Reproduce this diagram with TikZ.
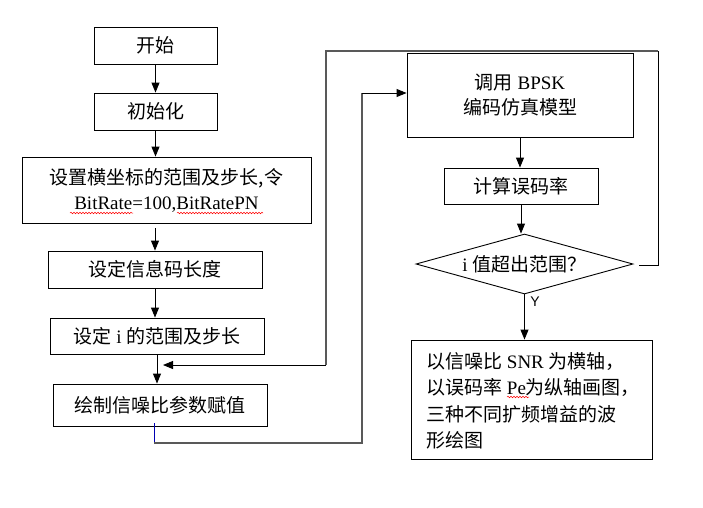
\documentclass[tikz,border=0pt]{standalone}
\usepackage{fontspec}
\setmainfont{Liberation Serif}
\newfontfamily\cjk{Noto Sans CJK SC}
\newfontfamily\arial{Liberation Sans}
\usetikzlibrary{arrows.meta,shapes.geometric,decorations.pathmorphing}
\begin{document}
\begin{tikzpicture}[x=1pt,y=-1pt,
  box/.style={draw,line width=0.9pt,inner sep=0pt,align=center,font=\fontsize{19}{25}\selectfont},
  arr/.style={-{Triangle[length=10pt,width=8pt]},line width=0.9pt},
  loopline/.style={draw=black!65,line width=1.3pt},
  wavy/.style={red,decorate,decoration={snake,amplitude=0.8pt,segment length=3pt},line width=0.5pt}]
\useasboundingbox (0,0) rectangle (703,507);

\node[box,minimum width=123pt,minimum height=37pt] (start) at (155.5,45.5) {\cjk 开始};
\node[box,minimum width=123pt,minimum height=37pt] (init) at (155.5,111.5) {\cjk 初始化};
\node[box,minimum width=289pt,minimum height=66pt] (setx) at (166.5,190) {{\cjk 设置横坐标的范围及步长,令}\\BitRate=100,BitRatePN};
\node[box,minimum width=214pt,minimum height=37pt] (len) at (155,269.5) {\cjk 设定信息码长度};
\node[box,minimum width=214pt,minimum height=36pt] (irange) at (157,336) {{\cjk 设定} i {\cjk 的范围及步长}};
\node[box,minimum width=214pt,minimum height=42pt] (snr) at (160,405) {\cjk 绘制信噪比参数赋值};

\node[box,minimum width=226pt,minimum height=84pt] (bpsk) at (520,95) {{\cjk 调用} BPSK\\{\cjk 编码仿真模型}};
\node[box,minimum width=154pt,minimum height=36pt] (ber) at (521,186) {\cjk 计算误码率};
\node[box,shape=diamond,aspect=3.6,minimum width=217pt,minimum height=60pt] (dia) at (524.5,264) {i {\cjk 值超出范围？}};
\node[draw,line width=0.9pt,minimum width=241pt,minimum height=119pt] (plotbox) at (531.5,399.5) {};
\node[inner sep=0pt,anchor=west,align=left,font=\fontsize{19}{26.5}\selectfont] (plot) at (426,401)
  {{\cjk 以信噪比} SNR {\cjk 为横轴，}\\{\cjk 以误码率} Pe{\cjk 为纵轴画图，}\\{\cjk 三种不同扩频增益的波}\\{\cjk 形绘图}};

\node[font=\arial\fontsize{14}{14}\selectfont,inner sep=0pt] (ylab) at (535,302) {Y};

% main column arrows
\draw[arr] (start.south) -- (init.north);
\draw[arr] (init.south) -- (init.south |- setx.north);
\draw[arr] ([yshift=-5pt]setx.south -| len.north) -- (len.north);
\draw[arr] (len.south) -- (len.south |- irange.north);
\draw[arr] (irange.south) -- (irange.south |- snr.north);

% inner loop from snr to bpsk
\coordinate (b1) at (154,423);
\coordinate (b2) at (154,443);
\coordinate (c1) at (362,443);
\coordinate (c2) at (362,93);
\draw[blue!70!black,line width=0.7pt] (b1) -- (b2);
\draw[loopline] (b2) -- (c1) -- (c2);
\draw[arr] (c2) -- (c2 -| bpsk.west);

% right column arrows
\draw[arr] (bpsk.south) -- (bpsk.south |- ber.north);
\draw[arr] (ber.south) -- (ber.south |- dia.north);
\draw[arr] (dia.south) -- (dia.south |- plotbox.north);

% outer loop back
\coordinate (d0) at (639,265);
\coordinate (d1) at (658,265);
\coordinate (d2) at (658,51);
\coordinate (d3) at (326,51);
\coordinate (d4) at (326,365);
\coordinate (join) at (163,365);
\draw[line width=0.9pt] (d0) -- (d1) -- (d2);
\draw[loopline] (d2) -- (d3) -- (d4);
\draw[arr] (d4) -- (join);

% spell-check underlines
\draw[wavy] (70,213) -- (133,213);
\draw[wavy] (177,213) -- (263,213);
\draw[wavy] (507,397) -- (529,397);
\end{tikzpicture}
\end{document}
